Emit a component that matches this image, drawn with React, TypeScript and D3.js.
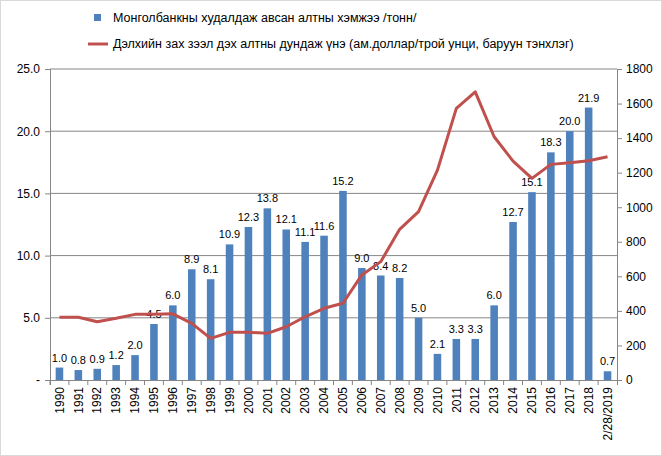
import { useEffect, useRef } from "react";
import * as d3 from "d3";

const W = 662;
const H = 456;
const M = { top: 69, right: 45, bottom: 76, left: 50 };

const years = ["1990","1991","1992","1993","1994","1995","1996","1997","1998","1999","2000","2001","2002","2003","2004","2005","2006","2007","2008","2009","2010","2011","2012","2013","2014","2015","2016","2017","2018","2/28/2019"];
const tonnes = [1.0,0.8,0.9,1.2,2.0,4.5,6.0,8.9,8.1,10.9,12.3,13.8,12.1,11.1,11.6,15.2,9.0,8.4,8.2,5.0,2.1,3.3,3.3,6.0,12.7,15.1,18.3,20.0,21.9,0.7];
const price = [363,363,337,357,380,380,383,328,241,276,276,270,308,366,415,444,608,685,872,974,1215,1572,1668,1408,1267,1167,1248,1258,1269,1292];
const leftTicks = [0,5,10,15,20,25];
const rightTicks = [0,200,400,600,800,1000,1200,1400,1600,1800];

export default function App() {
  const ref = useRef<SVGSVGElement>(null);

  useEffect(() => {
    const root = d3.select(ref.current);
    root.selectAll("*").remove();
    const font = "'Liberation Sans', Arial, sans-serif";
    root.append("rect").attr("x", 0.5).attr("y", 0.5).attr("width", W - 1).attr("height", H - 1)
      .attr("fill", "white").attr("stroke", "#d9d9d9");

    const iw = W - M.left - M.right;
    const ih = H - M.top - M.bottom;
    const g = root.append("g").attr("transform", `translate(${M.left},${M.top})`).style("font-family", font);

    const x = d3.scaleBand<string>().domain(years).range([0, iw]).paddingInner(0.6).paddingOuter(0.3);
    const yL = d3.scaleLinear().domain([0, 25]).range([ih, 0]);
    const yR = d3.scaleLinear().domain([0, 1800]).range([ih, 0]);

    leftTicks.slice(1).forEach((t) => {
      g.append("line").attr("x1", 0).attr("x2", iw).attr("y1", yL(t)).attr("y2", yL(t)).attr("stroke", "#868686");
    });

    g.append("g").attr("transform", `translate(0,${ih})`)
      .call(d3.axisBottom(x).tickSizeOuter(0).tickSize(5))
      .call((a) => a.select(".domain").attr("stroke", "#868686"))
      .call((a) => a.selectAll("line").attr("stroke", "#868686").attr("transform", `translate(${-x.step() / 2},0)`))
      .call((a) => a.selectAll("text").attr("transform", "rotate(-90)").attr("text-anchor", "end")
        .attr("x", -7).attr("y", 0).attr("dy", "0.35em").attr("font-size", 12).attr("fill", "#000"));

    g.append("g")
      .call(d3.axisLeft(yL).tickValues(leftTicks).tickSize(5).tickFormat((d) => (+d === 0 ? "-" : d3.format(".1f")(+d))))
      .call((a) => a.select(".domain").attr("stroke", "#868686"))
      .call((a) => a.selectAll("line").attr("stroke", "#868686"))
      .call((a) => a.selectAll("text").attr("font-size", 12).attr("fill", "#000").attr("x", -10));

    g.append("g").attr("transform", `translate(${iw},0)`)
      .call(d3.axisRight(yR).tickValues(rightTicks).tickSize(5).tickFormat((d) => String(d)))
      .call((a) => a.select(".domain").attr("stroke", "#868686"))
      .call((a) => a.selectAll("line").attr("stroke", "#868686"))
      .call((a) => a.selectAll("text").attr("font-size", 12).attr("fill", "#000").attr("x", 9));

    g.selectAll(".bar").data(years).enter().append("rect")
      .attr("x", (d) => x(d)!).attr("width", x.bandwidth())
      .attr("y", (_, i) => yL(tonnes[i])).attr("height", (_, i) => ih - yL(tonnes[i]))
      .attr("fill", "#4f81bd");

    g.selectAll(".lbl").data(years).enter().append("text")
      .attr("x", (d) => x(d)! + x.bandwidth() / 2).attr("y", (_, i) => yL(tonnes[i]) - 6)
      .attr("text-anchor", "middle").attr("font-size", 11).attr("fill", "#000")
      .text((_, i) => tonnes[i].toFixed(1));

    const line = d3.line<number>().x((_, i) => x(years[i])! + x.bandwidth() / 2).y((d) => yR(d));
    g.append("path").datum(price).attr("d", line).attr("fill", "none")
      .attr("stroke", "#c0504d").attr("stroke-width", 3).attr("stroke-linejoin", "round");

    const lg = root.append("g").style("font-family", font).attr("font-size", 12.5);
    lg.append("rect").attr("x", 94).attr("y", 14).attr("width", 7).attr("height", 7).attr("fill", "#4f81bd");
    lg.append("text").attr("x", 113).attr("y", 22).text("Монголбанкны худалдаж авсан алтны хэмжээ /тонн/");
    lg.append("line").attr("x1", 88).attr("x2", 108).attr("y1", 44).attr("y2", 44).attr("stroke", "#c0504d").attr("stroke-width", 3);
    lg.append("text").attr("x", 113).attr("y", 48).text("Дэлхийн зах зээл дэх алтны дундаж үнэ (ам.доллар/трой унци, баруун тэнхлэг)");
  }, []);

  return <svg ref={ref} width={W} height={H} style={{ display: "block", position: "absolute", left: 0, top: 0 }} />;
}
